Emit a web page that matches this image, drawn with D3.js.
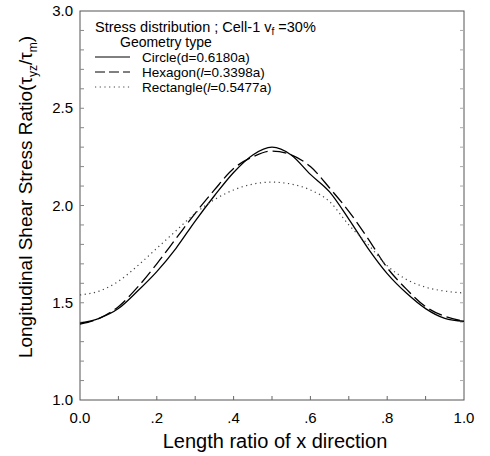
<!DOCTYPE html>
<html>
<head>
<meta charset="utf-8">
<script src="https://cdn.jsdelivr.net/npm/d3@7"></script>
<style>
  body { margin: 0; background: #fff; }
  svg { font-family: "Liberation Sans", Arial, sans-serif; }
</style>
</head>
<body>
<script>
var w = 490;
var h = 456;
var margin = {left: 80, right: 26, top: 11, bottom: 56};

// x positions (length ratio)
var xs = [0, .05, .1, .15, .2, .25, .3, .35, .4, .45, .5,
          .55, .6, .65, .7, .75, .8, .85, .9, .95, 1];
var circle = [1.395, 1.42, 1.47, 1.56, 1.66, 1.78, 1.92, 2.05, 2.17, 2.26, 2.30,
              2.26, 2.16, 2.07, 1.93, 1.78, 1.65, 1.55, 1.47, 1.42, 1.405];
var hexagon = [1.39, 1.42, 1.48, 1.58, 1.70, 1.83, 1.96, 2.08, 2.19, 2.25, 2.28,
               2.26, 2.20, 2.09, 1.97, 1.83, 1.68, 1.57, 1.48, 1.43, 1.405];
var rectangle = [1.54, 1.56, 1.61, 1.69, 1.78, 1.87, 1.96, 2.03, 2.08, 2.11, 2.12,
                 2.11, 2.08, 2.02, 1.90, 1.80, 1.69, 1.62, 1.58, 1.56, 1.55];
var xTicks = [0, .2, .4, .6, .8, 1];
var xTickLabels = ["0.0", ".2", ".4", ".6", ".8", "1.0"];
var yTicks = [1, 1.5, 2, 2.5, 3];
var yTickLabels = ["1.0", "1.5", "2.0", "2.5", "3.0"];

var xScale = d3.scaleLinear()
    .domain([0, 1])
    .range([margin.left, w - margin.right]);

var yScale = d3.scaleLinear()
    .domain([1, 3])
    .range([h - margin.bottom, margin.top]);

var svg = d3.select("body")
    .append("svg")
    .attr("width", w)
    .attr("height", h);

// frame
svg.append("rect")
    .attr("x", xScale(0))
    .attr("y", yScale(3))
    .attr("width", xScale(1) - xScale(0))
    .attr("height", yScale(1) - yScale(3))
    .attr("fill", "none")
    .attr("stroke", "#555")
    .attr("stroke-width", 1);

// inner minor ticks
var minor = d3.range(1, 10).map(function(d){ return d / 10; });
svg.selectAll(".xtick")
    .data(minor)
    .enter()
    .append("line")
    .attr("x1", function(d){ return xScale(d); })
    .attr("x2", function(d){ return xScale(d); })
    .attr("y1", yScale(1))
    .attr("y2", yScale(1) - 4)
    .attr("stroke", "#666");

var yMinor = d3.range(11, 30).map(function(d){ return d / 10; });
svg.selectAll(".ytick")
    .data(yMinor)
    .enter()
    .append("line")
    .attr("x1", xScale(0))
    .attr("x2", xScale(0) + 4)
    .attr("y1", function(d){ return yScale(d); })
    .attr("y2", function(d){ return yScale(d); })
    .attr("stroke", "#888");

svg.selectAll(".ytickr")
    .data(yMinor)
    .enter()
    .append("line")
    .attr("x1", xScale(1))
    .attr("x2", xScale(1) - 4)
    .attr("y1", function(d){ return yScale(d); })
    .attr("y2", function(d){ return yScale(d); })
    .attr("stroke", "#aaa");

// tick labels
svg.selectAll(".xlab")
    .data(xTicks)
    .enter()
    .append("text")
    .attr("x", function(d){ return xScale(d); })
    .attr("y", yScale(1) + 23)
    .attr("text-anchor", "middle")
    .style("font-size", "15px")
    .text(function(d, i){ return xTickLabels[i]; });

svg.selectAll(".ylab")
    .data(yTicks)
    .enter()
    .append("text")
    .attr("x", xScale(0) - 7)
    .attr("y", function(d){ return yScale(d) + 5; })
    .attr("text-anchor", "end")
    .style("font-size", "15px")
    .text(function(d, i){ return yTickLabels[i]; });

// axis titles
svg.append("text")
    .attr("x", (xScale(0) + xScale(1)) / 2 + 3)
    .attr("y", h - 8)
    .attr("text-anchor", "middle")
    .style("font-size", "20px")
    .text("Length ratio of x direction");

var yt = svg.append("text")
    .attr("transform", "translate(32,197) rotate(-90)")
    .attr("text-anchor", "middle")
    .style("font-size", "19px");
yt.append("tspan").text("Longitudinal Shear Stress Ratio(\u03c4");
yt.append("tspan").attr("dy", 5).style("font-size", "12px").text("yz");
yt.append("tspan").attr("dy", -5).text("/\u03c4");
yt.append("tspan").attr("dy", 5).style("font-size", "12px").text("m");
yt.append("tspan").attr("dy", -5).text(")");

// curves
var line = d3.line()
    .x(function(d){ return xScale(d[0]); })
    .y(function(d){ return yScale(d[1]); })
    .curve(d3.curveMonotoneX);

var series = [
    {name: "circle", values: circle, dash: null, color: "#000", width: 1.3},
    {name: "hexagon", values: hexagon, dash: "14,5", color: "#000", width: 1.3},
    {name: "rectangle", values: rectangle, dash: "1.2,3.5", color: "#444", width: 1.2}
];

svg.selectAll(".curve")
    .data(series)
    .enter()
    .append("path")
    .attr("d", function(s){
        return line(xs.map(function(x, i){ return [x, s.values[i]]; }));
    })
    .attr("fill", "none")
    .attr("stroke", function(s){ return s.color; })
    .attr("stroke-width", function(s){ return s.width; })
    .attr("stroke-dasharray", function(s){ return s.dash; });

// legend
var lg = svg.append("g").style("font-size", "14px");
var t1 = lg.append("text").attr("x", 95).attr("y", 32).style("font-size", "14.5px");
t1.append("tspan").text("Stress distribution ; Cell-1 v");
t1.append("tspan").attr("dy", 3).style("font-size", "10px").text("f");
t1.append("tspan").attr("dy", -3).text(" =30%");

lg.append("text").attr("x", 120).attr("y", 47).text("Geometry type");

var legendRows = [
    {pre: "Circle(d=0.6180a)", s: series[0]},
    {pre: "Hexagon(", it: "l", post: "=0.3398a)", s: series[1]},
    {pre: "Rectangle(", it: "l", post: "=0.5477a)", s: series[2]}
];

legendRows.forEach(function(r, i){
    var y = 62 + i * 15;
    lg.append("line")
        .attr("x1", 95).attr("x2", 130)
        .attr("y1", y - 5).attr("y2", y - 5)
        .attr("stroke", r.s.color)
        .attr("stroke-width", 1)
        .attr("stroke-dasharray", r.s.name == "hexagon" ? "10,4" : r.s.dash);
    var t = lg.append("text").attr("x", 142).attr("y", y).style("font-size", "13.5px");
    t.append("tspan").text(r.pre);
    if (r.it) {
        t.append("tspan").style("font-style", "italic").text(r.it);
        t.append("tspan").text(r.post);
    }
});
</script>
</body>
</html>
